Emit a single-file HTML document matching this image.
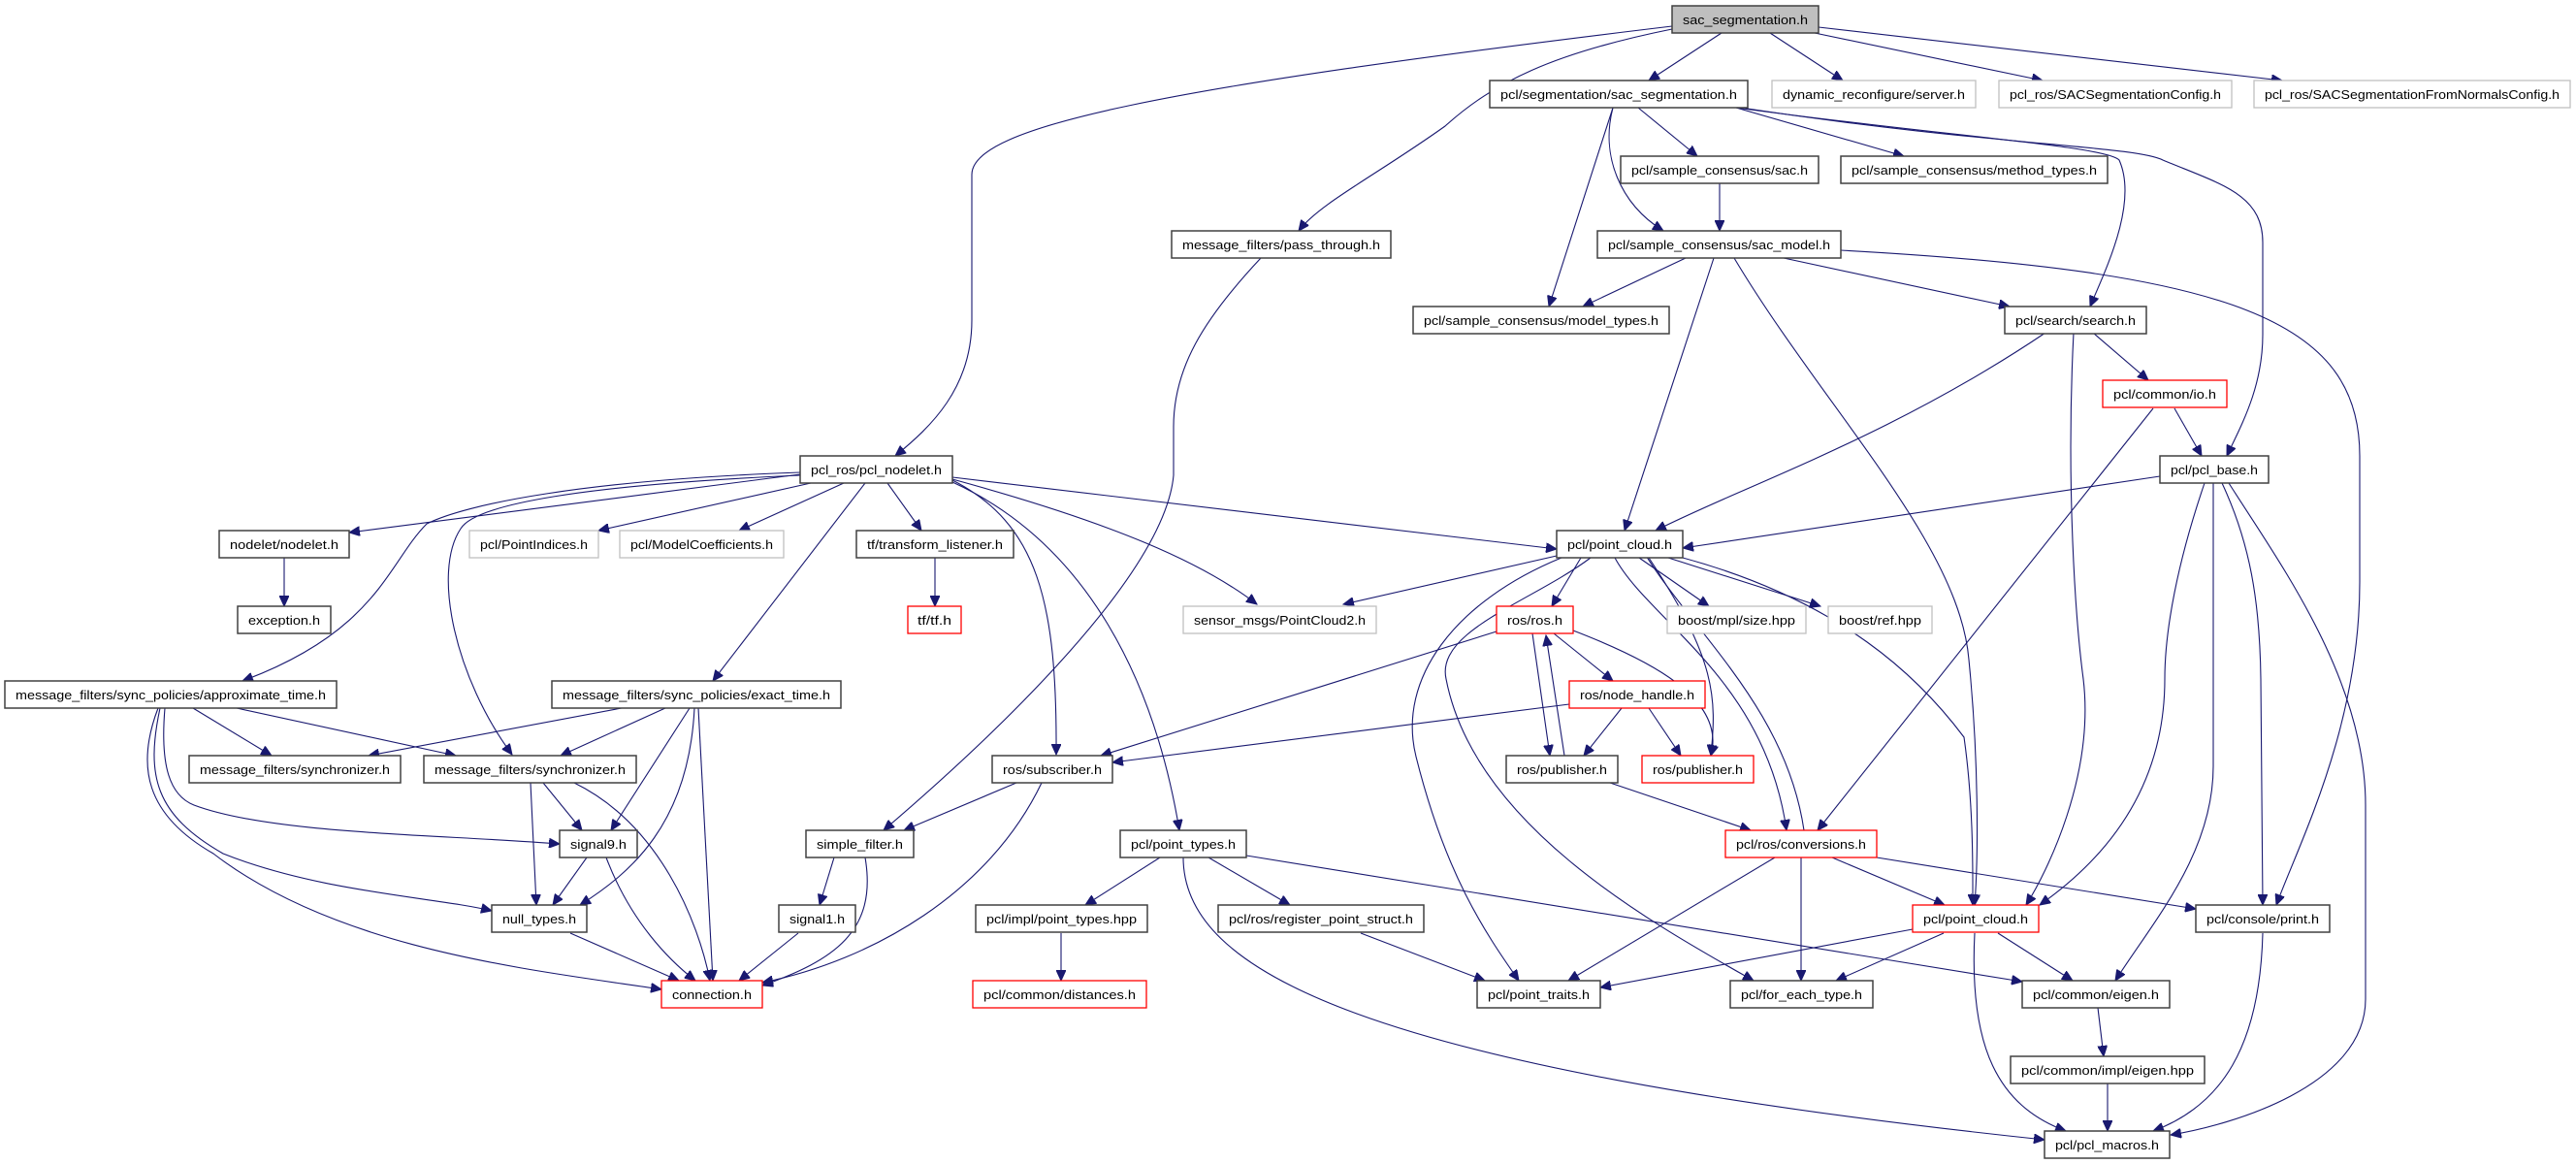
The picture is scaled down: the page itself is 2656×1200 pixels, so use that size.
<!DOCTYPE html>
<html><head><meta charset="utf-8"><style>
html,body{margin:0;padding:0;background:#fff;}
svg{display:block;}
text{font-family:"Liberation Sans",sans-serif;font-size:13px;fill:#000;}
.b{fill:#fff;stroke:#404040;stroke-width:1.5;}
.r{fill:#fff;stroke:#ff0000;stroke-width:1.3;}
.g{fill:#fff;stroke:#c0c0c0;stroke-width:1.3;}
.root{fill:#bfbfbf;stroke:#404040;stroke-width:1.5;}
path{fill:none;stroke:#191970;stroke-width:1.1;marker-end:url(#a);}
</style></head><body>
<svg width="2656" height="1200" viewBox="0 0 2656 1200" xmlns="http://www.w3.org/2000/svg">
<defs><marker id="a" markerUnits="userSpaceOnUse" markerWidth="12" markerHeight="10" refX="11" refY="5" orient="auto"><path d="M0,0 L11,5 L0,10 Z" style="fill:#191970;stroke:#191970;stroke-width:1;marker-end:none"/></marker></defs>

<!-- edges -->
<path d="M1724,27 C1200,90 1002,130 1002,180 L1002,330 C1002,400 960,440 923,470"/>
<path d="M1724,30 C1600,55 1540,85 1490,130 C1420,180 1360,210 1339,238"/>
<path d="M1775,34 L1700,83"/>
<path d="M1825,34 L1900,83"/>
<path d="M1871,34 L2106,83"/>
<path d="M1875,28 L2353,83"/>
<path d="M1689,111 L1750,161"/>
<path d="M1790,111 L1963,161"/>
<path d="M1663,111 C1650,160 1670,210 1715,238"/>
<path d="M1663,111 L1597,316"/>
<path d="M1790,111 C2000,140 2170,150 2185,165 C2205,210 2170,280 2155,316"/>
<path d="M1795,111 C2050,150 2200,150 2230,165 C2290,190 2333,200 2333,250 L2333,345 C2333,400 2310,440 2296,470"/>
<path d="M1773,189 L1773,238"/>
<path d="M1738,266 L1632,316"/>
<path d="M1839,266 L2072,316"/>
<path d="M1767,266 L1675,547"/>
<path d="M1788,266 C1880,420 2020,560 2030,680 C2040,780 2040,880 2036,933"/>
<path d="M1898,258 C2300,280 2433,330 2433,470 L2433,600 C2433,750 2370,870 2347,933"/>
<path d="M2158,343 L2215,392"/>
<path d="M2109,343 C1950,450 1800,500 1707,547"/>
<path d="M2138,343 C2130,500 2140,640 2148,700 C2160,800 2110,900 2089,933"/>
<path d="M2242,421 L2270,470"/>
<path d="M2220,421 L1874,856"/>
<path d="M2227,491 L1735,565"/>
<path d="M2273,498 C2245,580 2232,650 2232,700 C2232,830 2150,900 2103,933"/>
<path d="M2282,498 L2282,790 C2282,880 2220,950 2181,1011"/>
<path d="M2291,498 C2320,560 2330,620 2331,700 L2333,933"/>
<path d="M2298,498 C2350,580 2439,700 2439,830 L2439,1030 C2439,1120 2300,1160 2238,1170"/>
<path d="M825,489 L360,549"/>
<path d="M825,487 C600,495 480,520 440,540 C400,580 390,650 250,702"/>
<path d="M825,490 C600,500 490,520 475,545 C445,590 470,700 528,778"/>
<path d="M836,498 L617,547"/>
<path d="M870,498 L762,547"/>
<path d="M892,498 L735,702"/>
<path d="M915,498 L950,547"/>
<path d="M982,495 C1070,540 1090,620 1089,778"/>
<path d="M982,497 C1120,560 1190,700 1216,856"/>
<path d="M982,494 C1150,540 1240,580 1296,623"/>
<path d="M982,492 L1605,566"/>
<path d="M1300,266 C1240,330 1210,380 1210,440 L1210,490 C1200,600 1000,780 911,856"/>
<path d="M964,575 L964,625"/>
<path d="M293,575 L293,625"/>
<path d="M1605,573 L1385,623"/>
<path d="M1630,575 L1600,625"/>
<path d="M1690,575 L1762,625"/>
<path d="M1720,575 L1877,625"/>
<path d="M1610,575 C1500,620 1440,700 1460,780 C1490,900 1530,960 1566,1011"/>
<path d="M1640,575 C1580,620 1480,650 1491,700 C1520,850 1700,950 1808,1011"/>
<path d="M1665,575 C1700,640 1820,700 1842,856"/>
<path d="M1860,856 C1840,720 1730,640 1684,550"/>
<path d="M1700,575 C1770,680 1770,720 1764,779"/>
<path d="M1735,575 C1900,620 1980,700 2025,760 C2035,830 2034,900 2034,933"/>
<path d="M1543,651 L1135,779"/>
<path d="M1580,653 L1598,779"/>
<path d="M1613,779 L1594,655"/>
<path d="M1602,653 L1663,702"/>
<path d="M1622,650 C1700,680 1780,720 1764,779"/>
<path d="M1618,726 L1147,786"/>
<path d="M1672,730 L1633,779"/>
<path d="M1700,730 L1733,779"/>
<path d="M1660,807 L1805,856"/>
<path d="M1048,807 L932,856"/>
<path d="M1074,807 C1020,920 900,990 786,1013"/>
<path d="M1196,884 L1119,933"/>
<path d="M1246,884 L1330,933"/>
<path d="M1285,882 L2085,1012"/>
<path d="M1220,884 C1220,1000 1400,1100 2108,1175"/>
<path d="M1094,962 L1094,1011"/>
<path d="M1403,962 L1531,1011"/>
<path d="M1830,884 L1617,1011"/>
<path d="M1857,884 L1857,1011"/>
<path d="M1889,884 L2005,933"/>
<path d="M1935,884 L2264,937"/>
<path d="M1972,958 L1650,1018"/>
<path d="M2004,962 L1893,1011"/>
<path d="M2060,962 L2137,1011"/>
<path d="M2036,962 C2030,1080 2060,1140 2130,1166"/>
<path d="M2333,962 C2330,1080 2290,1140 2220,1166"/>
<path d="M2163,1039 L2169,1089"/>
<path d="M2173,1117 L2173,1166"/>
<path d="M860,884 L845,933"/>
<path d="M892,884 C905,960 860,990 786,1016"/>
<path d="M823,962 L762,1011"/>
<path d="M588,962 L700,1011"/>
<path d="M605,884 L570,933"/>
<path d="M625,884 C650,950 690,990 717,1011"/>
<path d="M547,807 L553,933"/>
<path d="M560,807 L600,856"/>
<path d="M592,807 C680,850 720,950 732,1011"/>
<path d="M641,730 L380,779"/>
<path d="M686,730 L578,779"/>
<path d="M711,730 L630,856"/>
<path d="M716,730 C710,850 650,900 598,933"/>
<path d="M720,730 L735,1011"/>
<path d="M199,730 L280,779"/>
<path d="M244,730 L470,779"/>
<path d="M170,730 C165,790 175,820 200,830 C280,860 450,860 577,870"/>
<path d="M165,730 C150,800 160,840 230,880 C330,920 450,925 507,939"/>
<path d="M163,730 C140,790 150,840 220,880 C350,980 550,1000 682,1020"/>

<!-- nodes -->
<g>
<rect class="root" x="1724" y="6" width="151" height="28"/><text x="1735" y="25" textLength="129" lengthAdjust="spacingAndGlyphs">sac_segmentation.h</text>
<rect class="b" x="1536" y="83" width="266" height="28"/><text x="1547" y="102" textLength="244" lengthAdjust="spacingAndGlyphs">pcl/segmentation/sac_segmentation.h</text>
<rect class="g" x="1827" y="83" width="210" height="28"/><text x="1838" y="102" textLength="188" lengthAdjust="spacingAndGlyphs">dynamic_reconfigure/server.h</text>
<rect class="g" x="2061" y="83" width="240" height="28"/><text x="2072" y="102" textLength="218" lengthAdjust="spacingAndGlyphs">pcl_ros/SACSegmentationConfig.h</text>
<rect class="g" x="2324" y="83" width="326" height="28"/><text x="2335" y="102" textLength="304" lengthAdjust="spacingAndGlyphs">pcl_ros/SACSegmentationFromNormalsConfig.h</text>
<rect class="b" x="1671" y="161" width="204" height="28"/><text x="1682" y="180" textLength="182" lengthAdjust="spacingAndGlyphs">pcl/sample_consensus/sac.h</text>
<rect class="b" x="1898" y="161" width="275" height="28"/><text x="1909" y="180" textLength="253" lengthAdjust="spacingAndGlyphs">pcl/sample_consensus/method_types.h</text>
<rect class="b" x="1208" y="238" width="226" height="28"/><text x="1219" y="257" textLength="204" lengthAdjust="spacingAndGlyphs">message_filters/pass_through.h</text>
<rect class="b" x="1647" y="238" width="251" height="28"/><text x="1658" y="257" textLength="229" lengthAdjust="spacingAndGlyphs">pcl/sample_consensus/sac_model.h</text>
<rect class="b" x="1457" y="316" width="264" height="28"/><text x="1468" y="335" textLength="242" lengthAdjust="spacingAndGlyphs">pcl/sample_consensus/model_types.h</text>
<rect class="b" x="2067" y="316" width="146" height="28"/><text x="2078" y="335" textLength="124" lengthAdjust="spacingAndGlyphs">pcl/search/search.h</text>
<rect class="r" x="2168" y="392" width="128" height="28"/><text x="2179" y="411" textLength="106" lengthAdjust="spacingAndGlyphs">pcl/common/io.h</text>
<rect class="b" x="825" y="470" width="157" height="28"/><text x="836" y="489" textLength="135" lengthAdjust="spacingAndGlyphs">pcl_ros/pcl_nodelet.h</text>
<rect class="b" x="2227" y="470" width="112" height="28"/><text x="2238" y="489" textLength="90" lengthAdjust="spacingAndGlyphs">pcl/pcl_base.h</text>
<rect class="b" x="226" y="547" width="134" height="28"/><text x="237" y="566" textLength="112" lengthAdjust="spacingAndGlyphs">nodelet/nodelet.h</text>
<rect class="g" x="484" y="547" width="133" height="28"/><text x="495" y="566" textLength="111" lengthAdjust="spacingAndGlyphs">pcl/PointIndices.h</text>
<rect class="g" x="639" y="547" width="169" height="28"/><text x="650" y="566" textLength="147" lengthAdjust="spacingAndGlyphs">pcl/ModelCoefficients.h</text>
<rect class="b" x="883" y="547" width="162" height="28"/><text x="894" y="566" textLength="140" lengthAdjust="spacingAndGlyphs">tf/transform_listener.h</text>
<rect class="b" x="1605" y="547" width="130" height="28"/><text x="1616" y="566" textLength="108" lengthAdjust="spacingAndGlyphs">pcl/point_cloud.h</text>
<rect class="b" x="245" y="625" width="96" height="28"/><text x="256" y="644" textLength="74" lengthAdjust="spacingAndGlyphs">exception.h</text>
<rect class="r" x="936" y="625" width="55" height="28"/><text x="946" y="644" textLength="35" lengthAdjust="spacingAndGlyphs">tf/tf.h</text>
<rect class="g" x="1220" y="625" width="199" height="28"/><text x="1231" y="644" textLength="177" lengthAdjust="spacingAndGlyphs">sensor_msgs/PointCloud2.h</text>
<rect class="r" x="1543" y="625" width="79" height="28"/><text x="1554" y="644" textLength="57" lengthAdjust="spacingAndGlyphs">ros/ros.h</text>
<rect class="g" x="1719" y="625" width="143" height="28"/><text x="1730" y="644" textLength="121" lengthAdjust="spacingAndGlyphs">boost/mpl/size.hpp</text>
<rect class="g" x="1885" y="625" width="107" height="28"/><text x="1896" y="644" textLength="85" lengthAdjust="spacingAndGlyphs">boost/ref.hpp</text>
<rect class="b" x="5" y="702" width="342" height="28"/><text x="16" y="721" textLength="320" lengthAdjust="spacingAndGlyphs">message_filters/sync_policies/approximate_time.h</text>
<rect class="b" x="569" y="702" width="298" height="28"/><text x="580" y="721" textLength="276" lengthAdjust="spacingAndGlyphs">message_filters/sync_policies/exact_time.h</text>
<rect class="r" x="1618" y="702" width="140" height="28"/><text x="1629" y="721" textLength="118" lengthAdjust="spacingAndGlyphs">ros/node_handle.h</text>
<rect class="b" x="195" y="779" width="218" height="28"/><text x="206" y="798" textLength="196" lengthAdjust="spacingAndGlyphs">message_filters/synchronizer.h</text>
<rect class="b" x="437" y="779" width="219" height="28"/><text x="448" y="798" textLength="197" lengthAdjust="spacingAndGlyphs">message_filters/synchronizer.h</text>
<rect class="b" x="1023" y="779" width="124" height="28"/><text x="1034" y="798" textLength="102" lengthAdjust="spacingAndGlyphs">ros/subscriber.h</text>
<rect class="b" x="1553" y="779" width="115" height="28"/><text x="1564" y="798" textLength="93" lengthAdjust="spacingAndGlyphs">ros/publisher.h</text>
<rect class="r" x="1693" y="779" width="115" height="28"/><text x="1704" y="798" textLength="93" lengthAdjust="spacingAndGlyphs">ros/publisher.h</text>
<rect class="b" x="577" y="856" width="80" height="28"/><text x="588" y="875" textLength="58" lengthAdjust="spacingAndGlyphs">signal9.h</text>
<rect class="b" x="831" y="856" width="111" height="28"/><text x="842" y="875" textLength="89" lengthAdjust="spacingAndGlyphs">simple_filter.h</text>
<rect class="b" x="1155" y="856" width="130" height="28"/><text x="1166" y="875" textLength="108" lengthAdjust="spacingAndGlyphs">pcl/point_types.h</text>
<rect class="r" x="1779" y="856" width="156" height="28"/><text x="1790" y="875" textLength="134" lengthAdjust="spacingAndGlyphs">pcl/ros/conversions.h</text>
<rect class="b" x="507" y="933" width="98" height="28"/><text x="518" y="952" textLength="76" lengthAdjust="spacingAndGlyphs">null_types.h</text>
<rect class="b" x="803" y="933" width="79" height="28"/><text x="814" y="952" textLength="57" lengthAdjust="spacingAndGlyphs">signal1.h</text>
<rect class="b" x="1006" y="933" width="177" height="28"/><text x="1017" y="952" textLength="155" lengthAdjust="spacingAndGlyphs">pcl/impl/point_types.hpp</text>
<rect class="b" x="1256" y="933" width="212" height="28"/><text x="1267" y="952" textLength="190" lengthAdjust="spacingAndGlyphs">pcl/ros/register_point_struct.h</text>
<rect class="r" x="1972" y="933" width="130" height="28"/><text x="1983" y="952" textLength="108" lengthAdjust="spacingAndGlyphs">pcl/point_cloud.h</text>
<rect class="b" x="2264" y="933" width="138" height="28"/><text x="2275" y="952" textLength="116" lengthAdjust="spacingAndGlyphs">pcl/console/print.h</text>
<rect class="r" x="682" y="1011" width="104" height="28"/><text x="693" y="1030" textLength="82" lengthAdjust="spacingAndGlyphs">connection.h</text>
<rect class="r" x="1003" y="1011" width="179" height="28"/><text x="1014" y="1030" textLength="157" lengthAdjust="spacingAndGlyphs">pcl/common/distances.h</text>
<rect class="b" x="1523" y="1011" width="127" height="28"/><text x="1534" y="1030" textLength="105" lengthAdjust="spacingAndGlyphs">pcl/point_traits.h</text>
<rect class="b" x="1784" y="1011" width="147" height="28"/><text x="1795" y="1030" textLength="125" lengthAdjust="spacingAndGlyphs">pcl/for_each_type.h</text>
<rect class="b" x="2085" y="1011" width="152" height="28"/><text x="2096" y="1030" textLength="130" lengthAdjust="spacingAndGlyphs">pcl/common/eigen.h</text>
<rect class="b" x="2073" y="1089" width="200" height="28"/><text x="2084" y="1108" textLength="178" lengthAdjust="spacingAndGlyphs">pcl/common/impl/eigen.hpp</text>
<rect class="b" x="2108" y="1166" width="129" height="28"/><text x="2119" y="1185" textLength="107" lengthAdjust="spacingAndGlyphs">pcl/pcl_macros.h</text>
</g>
</svg>
</body></html>
